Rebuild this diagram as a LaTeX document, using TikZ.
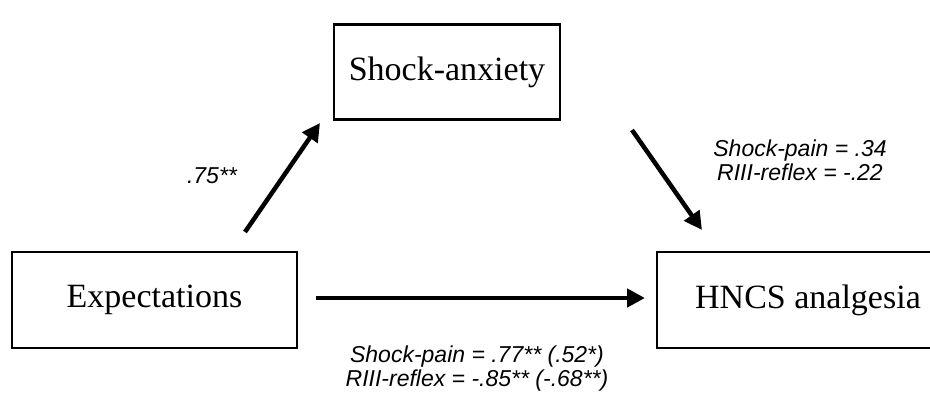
\documentclass[tikz,border=0pt]{standalone}
\usepackage{fontspec}
\setmainfont{Liberation Serif}
\setsansfont{Liberation Sans}
\usetikzlibrary{arrows.meta}
\begin{document}
\begin{tikzpicture}[x=1pt, y=-1pt,
    varbox/.style={draw, line width=2.6pt, font=\fontsize{34}{38}\selectfont, inner sep=0pt},
    coef/.style={font=\sffamily\itshape\fontsize{23}{24}\selectfont, align=center},
    path arrow/.style={line width=4.5pt, -{Triangle[length=18pt, width=18pt]}}]
    \useasboundingbox (0,0) rectangle (930,392);

    % Kasten
    \node[varbox, minimum width=226pt, minimum height=95pt] (anx) at (447,72) {Shock-anxiety};
    \node[varbox, minimum width=285pt, minimum height=96pt] (exp) at (154.5,300) {Expectations};
    \node[varbox, minimum width=302pt, minimum height=96pt] (hncs) at (808,300) {HNCS analgesia};

    % Pfeilenden
    \coordinate (a1) at (245,232);
    \coordinate (a2) at (320,123);
    \coordinate (b1) at (632,130);
    \coordinate (b2) at (702,230);
    \coordinate (c1) at (316,298);
    \coordinate (c2) at (645,298);

    \draw[path arrow] (a1) -- (a2);
    \draw[path arrow] (b1) -- (b2);
    \draw[path arrow] (c1) -- (c2);

    \node[coef] (ca) at (212,176) {.75**};
    \node[coef] (cb) at (800,160) {Shock-pain = .34\\RIII-reflex = -.22};
    \node[coef] (cc) at (477,369) {Shock-pain = .77** (.52*)\\RIII-reflex = -.85** (-.68**)};
\end{tikzpicture}
\end{document}
